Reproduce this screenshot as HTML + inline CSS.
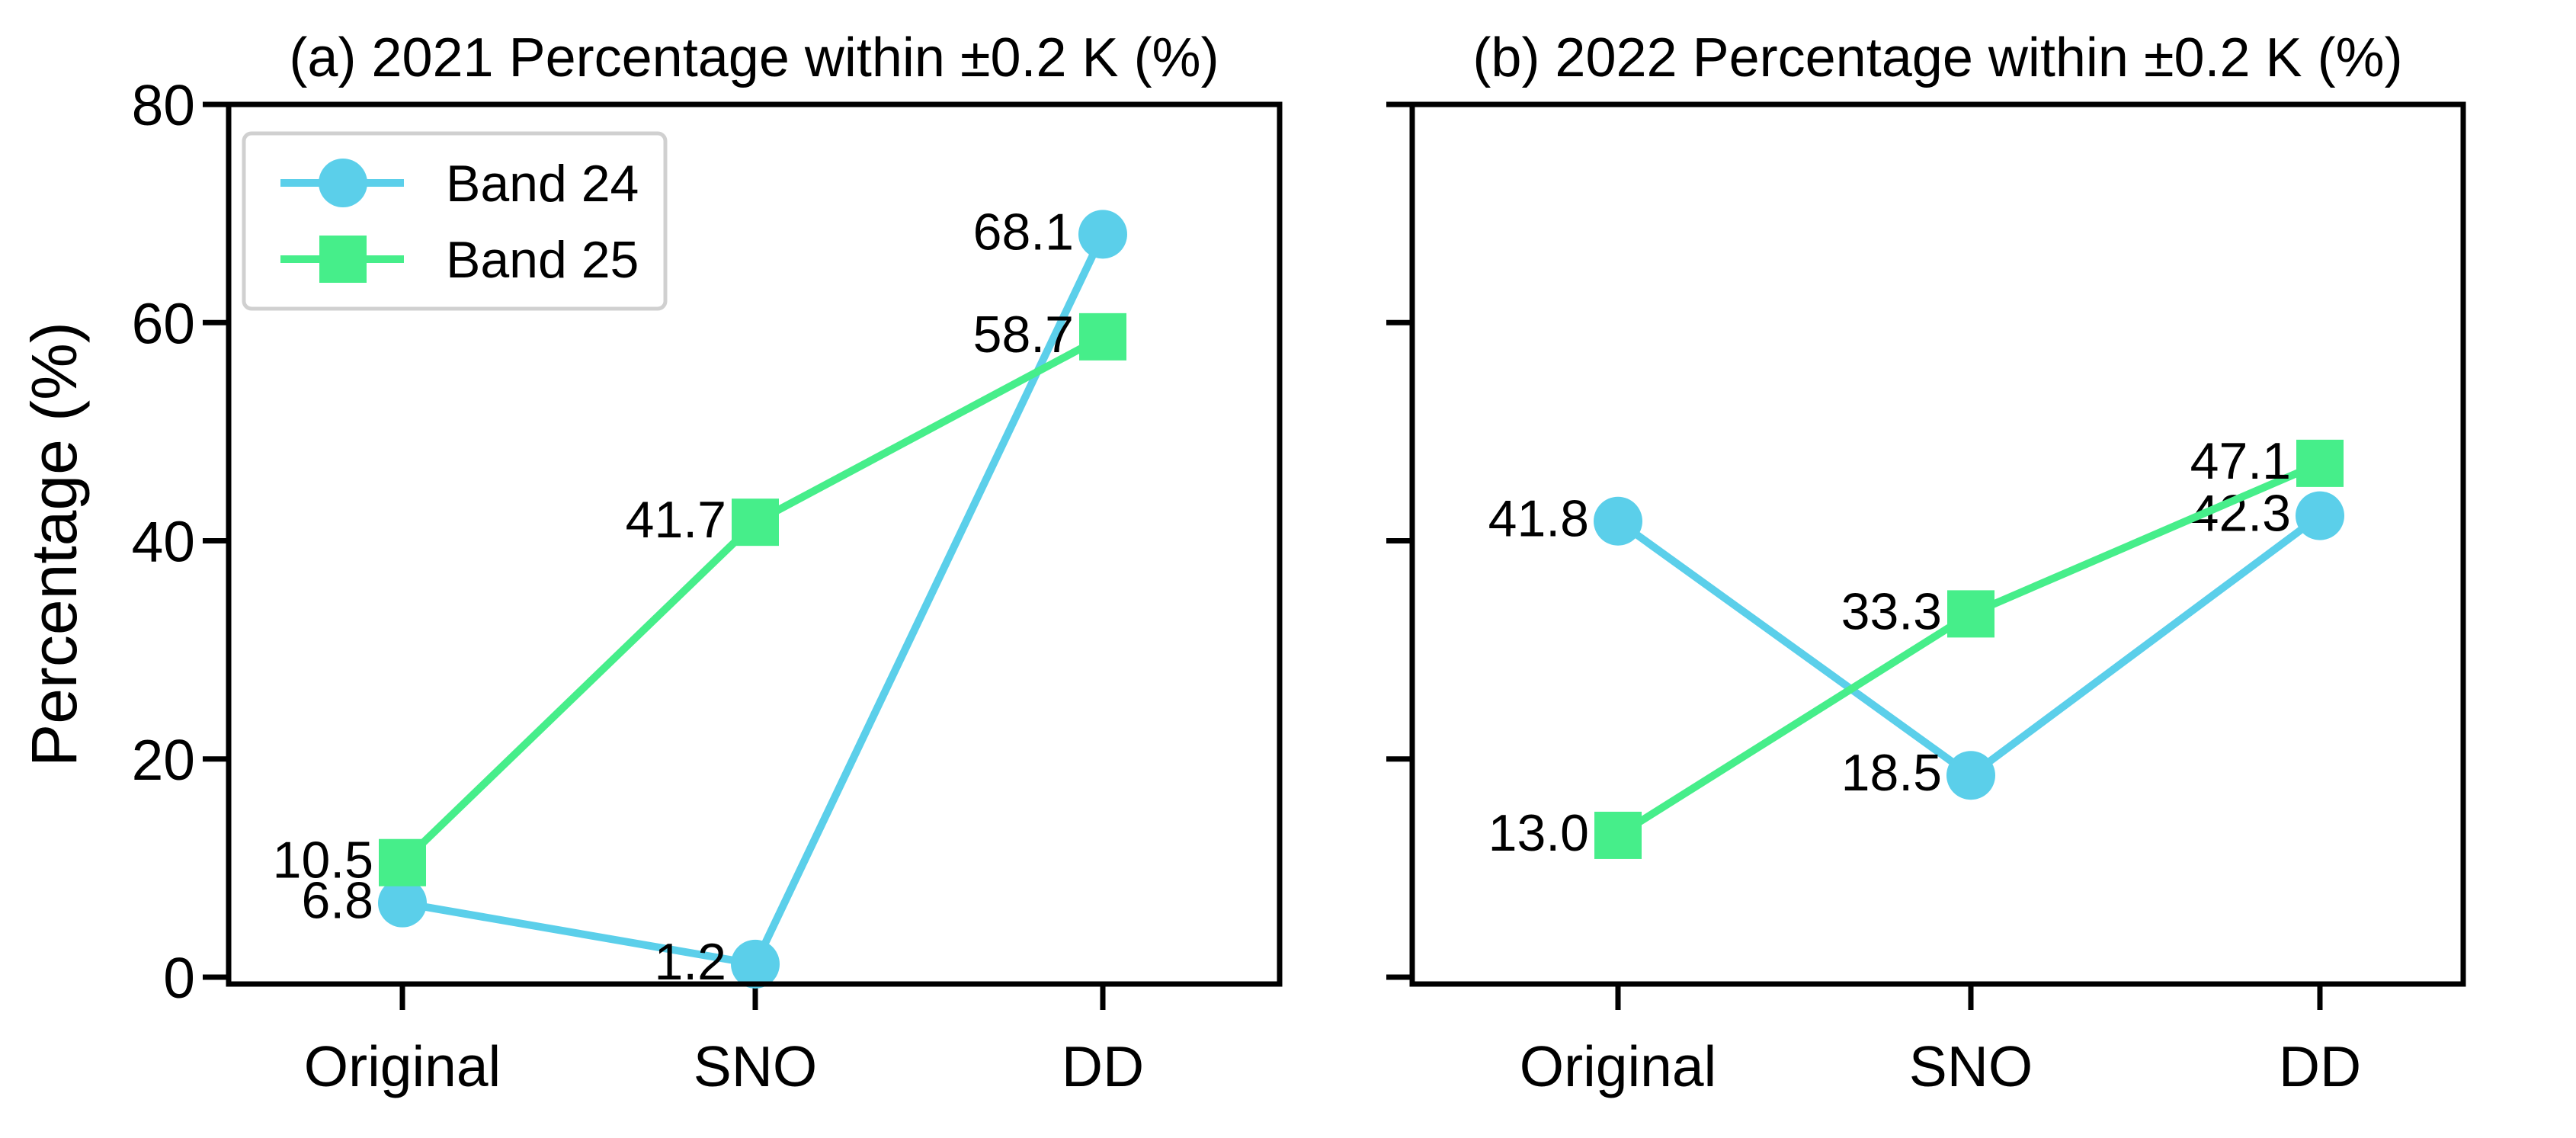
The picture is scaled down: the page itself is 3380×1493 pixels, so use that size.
<!DOCTYPE html>
<html><head><meta charset="utf-8"><style>html,body{margin:0;padding:0;background:#fff}svg{display:block}text{font-family:"Liberation Sans",Arial,sans-serif;fill:#000}</style></head>
<body>
<svg id="chart" width="3380" height="1493" viewBox="0 0 3380 1493"></svg>
<script>
const categories = ["Original","SNO","DD"];
const band24_2021 = [6.8, 1.2, 68.1];
const band25_2021 = [10.5, 41.7, 58.7];
const band24_2022 = [41.8, 18.5, 42.3];
const band25_2022 = [13.0, 33.3, 47.1];
const yTicks = [0,20,40,60,80];
const titles = ["(a) 2021 Percentage within \u00b10.2 K (%)","(b) 2022 Percentage within \u00b10.2 K (%)"];
const C24="#5bcfea", C25="#46ee8a";
const NS="http://www.w3.org/2000/svg";
const svg=document.getElementById('chart');
function mk(t,a,p){const e=document.createElementNS(NS,t);for(const k in a)e.setAttribute(k,a[k]);(p||svg).appendChild(e);return e;}
const panels=[{x0:300,x1:1679,cx:[528,991,1447],b24:band24_2021,b25:band25_2021,name:'panel-2021'},
              {x0:1853,x1:3232,cx:[2123,2586,3044],b24:band24_2022,b25:band25_2022,name:'panel-2022'}];
const yTop=137,yBot=1291,y0px=1282,y80px=137;
function y(v){return y0px+(y80px-y0px)*v/80;}
panels.forEach((p,pi)=>{
  const g=mk('g',{});
  
  
  const t=mk('text',{x:(p.x0+p.x1)/2,y:100,'font-size':72,'text-anchor':'middle'},g);t.textContent=titles[pi];
  
  
  yTicks.forEach(v=>{
    const tk=mk('line',{x1:p.x0-34,x2:p.x0,y1:y(v),y2:y(v),stroke:'#000','stroke-width':7},g);
    
    
    if(pi===0){const l=mk('text',{x:p.x0-44,y:y(v)+27,'font-size':75,'text-anchor':'end'},g);l.textContent=v;
      
      }
  });
  categories.forEach((c,i)=>{
    const tk=mk('line',{x1:p.cx[i],x2:p.cx[i],y1:yBot,y2:yBot+34,stroke:'#000','stroke-width':7},g);
    
    
    const l=mk('text',{x:p.cx[i],y:1425,'font-size':75,'text-anchor':'middle'},g);l.textContent=c;
    
    
  });
  [[p.b24,C24,'circle','band-24'],[p.b25,C25,'square','band-25']].forEach(([vals,col,shape,nm])=>{
    const pts=vals.map((v,i)=>p.cx[i]+','+y(v)).join(' ');
    const pl=mk('polyline',{points:pts,fill:'none',stroke:col,'stroke-width':10},g);
    
    
    vals.forEach((v,i)=>{
      let m;
      if(shape==='circle')m=mk('circle',{cx:p.cx[i],cy:y(v),r:32,fill:col},g);
      else m=mk('rect',{x:p.cx[i]-31,y:y(v)-31,width:62,height:62,fill:col},g);
      
      
      const l=mk('text',{x:p.cx[i]-38,y:y(v)+20,'font-size':68,'text-anchor':'end'},g);l.textContent=v.toFixed(1);
      
      
    });
  });
  const fr=mk('rect',{x:p.x0,y:yTop,width:p.x1-p.x0,height:yBot-yTop,fill:'none',stroke:'#000','stroke-width':7},g);
  
  
});
const yl=mk('text',{x:0,y:0,'font-size':84,'text-anchor':'middle',transform:'translate(100,714) rotate(-90)'});
yl.textContent='Percentage (%)';


const lg=mk('g',{});


mk('rect',{x:320,y:175,width:553,height:230,rx:10,fill:'#fff',stroke:'#d0d0d0','stroke-width':5},lg);
[[C24,'circle','Band 24',240],[C25,'square','Band 25',340]].forEach(([col,sh,lab,cy])=>{
  const e=mk('g',{},lg);
  
  
  mk('line',{x1:368,x2:530,y1:cy,y2:cy,stroke:col,'stroke-width':10},e);
  if(sh==='circle')mk('circle',{cx:450,cy:cy,r:32,fill:col},e);
  else mk('rect',{x:419,y:cy-31,width:62,height:62,fill:col},e);
  const t=mk('text',{x:585,y:cy+24,'font-size':68},e);t.textContent=lab;
});
</script>
</body></html>
